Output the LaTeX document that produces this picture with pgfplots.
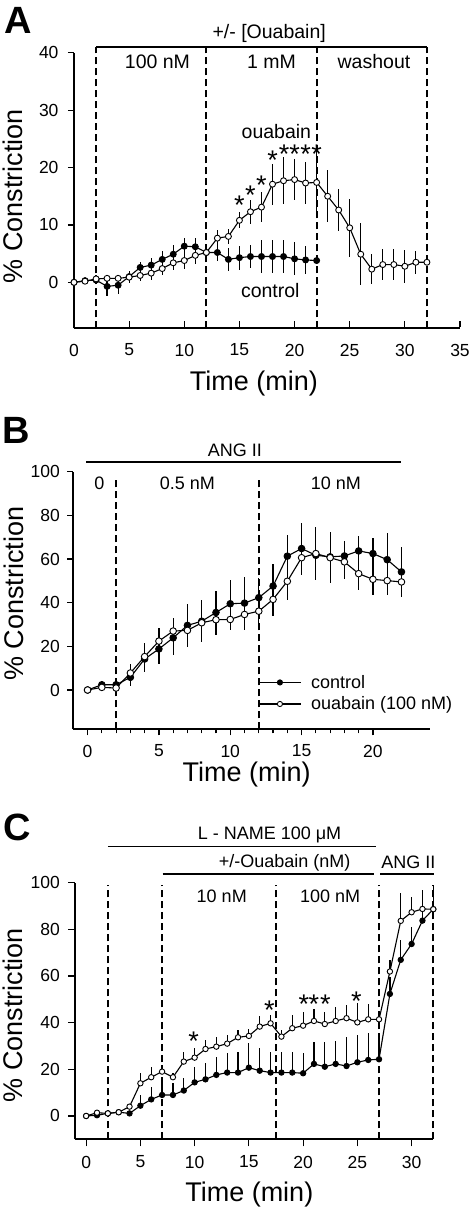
\documentclass[border=0pt]{standalone}
\usepackage{fontspec}
\setmainfont{Liberation Sans}
\usepackage{pgfplots}
\usepackage{pgfplotstable}
\pgfplotsset{compat=1.18}

\newcommand\tfont{\fontsize{18}{21}\selectfont}
\newcommand\afont{\fontsize{19.5}{21}\selectfont}
\newcommand\sfont{\fontsize{27}{27}\selectfont}

\pgfplotstableread{
x y e
0 0 0
1 0.2 0.4
2 0.6 0.6
3 0.7 0.6
4 0.7 0.6
5 0.9 1.0
6 1.2 1.0
7 1.6 1.2
8 2.4 1.2
9 3.4 1.3
10 3.8 1.5
11 4.7 1.5
12 5.2 0.8
13 7.7 1.4
14 8.0 1.3
15 10.8 1.4
16 12.3 2.1
17 13.1 2.6
18 17.1 3.6
19 17.7 4.1
20 17.9 3.6
21 17.3 3.7
22 17.4 5.3
23 15.0 4.5
24 12.6 3.7
25 9.5 5.0
26 4.9 5.4
27 2.3 2.6
28 3.1 2.7
29 3.1 2.7
30 2.8 2.9
31 3.5 2.0
32 3.5 0.3
}\Aoua
\pgfplotstableread{
x y e
0 0 0
1 0.3 0.3
2 0.4 0.5
3 -0.7 1.6
4 -0.5 1.5
5 1.0 1.0
6 2.6 1.0
7 3.0 1.2
8 4.0 1.5
9 4.9 1.6
10 6.3 1.4
11 6.2 1.6
12 5.2 1.4
13 5.2 1.4
14 4.0 2.0
15 4.3 2.1
16 4.5 2.0
17 4.5 2.9
18 4.5 2.9
19 4.5 2.9
20 4.1 2.9
21 3.9 2.5
22 3.8 0.5
}\Actl
\pgfplotstableread{
x y e
0 0 0
1 2.4 1
2 2.4 1
3 5.8 4
4 14.2 6
5 18.8 7
6 23.9 8
7 29.6 10
8 31.5 9.5
9 35.5 10
10 39.5 11
11 39.8 12
12 42.3 9
13 47.6 10
14 61.3 9.5
15 64.8 11.5
16 61.7 6
17 61.0 7.5
18 61.4 7
19 63.7 7
20 62.5 7.2
21 59.7 12
22 54.1 11.4
}\Bctl
\pgfplotstableread{
x y e
0 0 0
1 1.2 0.5
2 0.9 0.5
3 7.8 4
4 15.3 6
5 22.4 6
6 27.0 6
7 27.3 6
8 30.8 7
9 32.2 6.8
10 32.3 5
11 34.6 7
12 36.1 7.3
13 41.5 7.4
14 49.8 8.8
15 60.6 8
16 62.5 12.3
17 60.6 11.6
18 58.7 8
19 53.3 7.7
20 50.7 7.4
21 50.1 6.8
22 49.5 7
}\Boua
\pgfplotstableread{
x y e
0 0 0
1 0.3 0
2 1.1 0
3 1.6 0
4 1.1 0.5
5 4.4 4.6
6 7.1 5.2
7 9.0 5.3
8 9.0 5
9 10.9 5.2
10 14.4 6.7
11 15.7 6.9
12 17.6 7.8
13 18.6 8.3
14 18.6 8.7
15 20.7 10.4
16 19.4 9.6
17 18.6 9
18 18.6 8.7
19 18.6 8.7
20 18.3 8.6
21 22.3 9.6
22 21.1 10.8
23 22.3 10
24 21.4 12.3
25 23.0 11.7
26 24.0 11.4
27 24.3 11
28 52.3 7.4
29 66.9 8.5
30 73.7 7.4
31 83.7 4.6
32 88.6 4
}\Cctl
\pgfplotstableread{
x y e
0 0 0
1 1.4 0
2 1.1 0
3 1.6 0
4 4.0 1
5 14.0 4.3
6 16.6 4.5
7 19.0 3
8 16.6 2
9 23.3 4.3
10 25.0 4
11 28.7 3.9
12 29.7 4
13 31.0 3.7
14 33.7 3.2
15 34.3 2.8
16 38.3 4.6
17 39.7 3.6
18 34.0 3
19 37.6 5.7
20 38.7 6
21 40.7 5
22 39.4 5.3
23 40.7 5.9
24 41.9 5.7
25 40.1 8.2
26 41.4 6.6
27 41.4 2
28 61.9 5
29 83.6 11.8
30 87.3 6.7
31 88.7 8.2
32 88.6 10
}\Coua

\tikzset{ast/.style={font=\sfont, inner sep=0pt, anchor=north}}
\pgfplotsset{
  base/.style={
    scale only axis, axis lines=left,
    axis line style={-, line width=1.7pt},
    tick style={line width=1.2pt, black},
    tick align=outside, major tick length=6pt,
    ticklabel style={font=\fontsize{17.5}{17.5}\selectfont},
    /pgf/number format/assume math mode=true,
    label style={font=\fontsize{27}{27}\selectfont},
    xlabel={Time (min)}, ylabel={\% Constriction},
    clip=false,
  },
  ctl/.style={black, line width=1.1pt, mark=*, mark size=#1, mark options={fill=black, solid, line width=0.9pt},
    error bars/y dir=both, error bars/y explicit, error bars/error mark=none,
    error bars/error bar style={line width=1.2pt, solid}},
  oua/.style={black, line width=1.1pt, mark=*, mark size=#1, mark options={fill=white, solid, line width=0.9pt},
    error bars/y dir=both, error bars/y explicit, error bars/error mark=none,
    error bars/error bar style={line width=1.2pt, solid}},
  vdash/.style={black, line width=1.8pt, dash pattern=on 7pt off 4pt, forget plot},
  hbar/.style={black, line width=1.8pt, forget plot},
}

\begin{document}
\begin{tikzpicture}
\useasboundingbox (0,0) rectangle (474pt,1209pt);

% ---------------- Panel A ----------------
\node[font=\bfseries\fontsize{38}{38}\selectfont] at (18.5pt,1189pt) {A};
\begin{axis}[base, at={(74pt,880.7pt)}, anchor=south west,
  width=386pt, height=275.6pt,
  xmin=0, xmax=35, ymin=-8, ymax=40,
  xtick={0,5,...,35}, ytick={0,10,...,40},
  xtick style={yshift=7pt},
  xticklabel style={yshift=-6pt},
  yticklabel style={xshift=-6pt},
  ylabel style={at={(axis description cs:-0.158,0.48)}, anchor=center},
  xlabel style={at={(axis description cs:0.466,-0.2)}, anchor=center},
]
\addplot[vdash] coordinates {(2,-8) (2,41)};
\addplot[vdash] coordinates {(12,-8) (12,41)};
\addplot[vdash] coordinates {(22,-8) (22,41)};
\addplot[vdash] coordinates {(32,-8) (32,41)};
\addplot[hbar] coordinates {(2,41.05) (32,41.05)};
\addplot[ctl=3pt] table[x=x, y=y, y error=e] {\Actl};
\addplot[oua=3pt] table[x=x, y=y, y error=e] {\Aoua};
\node[font=\afont] at (axis cs:17.7,43.4) {+/- [Ouabain]};
\node[font=\afont] at (axis cs:7.57,38.4) {100 nM};
\node[font=\afont] at (axis cs:17.9,38.4) {1 mM};
\node[font=\afont] at (axis cs:27.2,38.4) {washout};
\node[font=\afont] at (axis cs:18.35,26.2) {ouabain};
\node[font=\afont] at (axis cs:17.8,-1.46) {control};
\node[ast] at (axis cs:15,15.1) {*};
\node[ast] at (axis cs:16,16.9) {*};
\node[ast] at (axis cs:17,18.6) {*};
\node[ast] at (axis cs:18,22.9) {*};
\node[ast] at (axis cs:19.05,24.0) {*};
\node[ast] at (axis cs:20,24.0) {*};
\node[ast] at (axis cs:21,24.0) {*};
\node[ast] at (axis cs:22,24.0) {*};
\end{axis}

% ---------------- Panel B ----------------
\node[font=\bfseries\fontsize{38}{38}\selectfont] at (16pt,779pt) {B};
\begin{axis}[base, at={(73.3pt,479.7pt)}, anchor=south west,
  width=356.7pt, height=257.6pt,
  xmin=-1, xmax=24, ymin=-18, ymax=100,
  xtick={0,5,...,20}, ytick={0,20,...,100},
  minor x tick num=4, minor tick length=4pt,
  xticklabel style={yshift=-6pt},
  yticklabel style={xshift=-4pt},
  ylabel style={at={(axis description cs:-0.168,0.527)}, anchor=center},
  xlabel style={at={(axis description cs:0.486,-0.177)}, anchor=center},
  legend style={at={(axis cs:12,7.8)}, anchor=north west, draw=none, fill=none,
    inner sep=0pt, font=\tfont, row sep=3pt, legend cell align=left,
    /tikz/every odd column/.append style={column sep=8pt}},
  legend image code/.code={\draw[mark repeat=2, mark phase=2, #1, mark size=2.6pt] plot coordinates {(0pt,0pt) (20.4pt,0pt) (41pt,0pt)};},
]
\addplot[vdash] coordinates {(2,-18) (2,96.5)};
\addplot[vdash] coordinates {(12,-18) (12,96.5)};
\addplot[hbar] coordinates {(-0.1,104.6) (22,104.6)};
\addplot[ctl=3.3pt] table[x=x, y=y, y error=e] {\Bctl};
\addlegendentry{control}
\addplot[oua=3.3pt] table[x=x, y=y, y error=e] {\Boua};
\addlegendentry{ouabain (100 nM)}
\node[font=\tfont] at (axis cs:10.33,110) {ANG II};
\node[font=\tfont] at (axis cs:0.82,94.6) {0};
\node[font=\tfont] at (axis cs:7.0,94.6) {0.5 nM};
\node[font=\tfont] at (axis cs:17.4,94.6) {10 nM};
\end{axis}

% ---------------- Panel C ----------------
\node[font=\bfseries\fontsize{38}{38}\selectfont] at (17pt,382pt) {C};
\begin{axis}[base, at={(75.3pt,69.7pt)}, anchor=south west,
  width=358pt, height=256.7pt,
  xmin=-1, xmax=32, ymin=-10, ymax=100,
  xtick={0,5,...,30}, ytick={0,20,...,100},
  major tick length=7pt,
  xticklabel style={yshift=-6pt},
  yticklabel style={xshift=-5pt},
  ylabel style={at={(axis description cs:-0.174,0.484)}, anchor=center},
  xlabel style={at={(axis description cs:0.486,-0.217)}, anchor=center},
]
\addplot[vdash] coordinates {(2,-10) (2,99)};
\addplot[vdash] coordinates {(7,-10) (7,99)};
\addplot[vdash] coordinates {(17.5,-10) (17.5,99)};
\addplot[vdash] coordinates {(27,-10) (27,99)};
\addplot[vdash] coordinates {(32,-10) (32,99)};
\addplot[hbar, line width=1.4pt] coordinates {(2,115.4) (26.7,115.4)};
\addplot[hbar, line width=1.4pt] coordinates {(7.05,103.7) (26.5,103.7)};
\addplot[hbar, line width=1.4pt] coordinates {(27.1,103.7) (32.1,103.7)};
\addplot[ctl=2.7pt, error bars/y dir=plus] table[x=x, y=y, y error=e] {\Cctl};
\addplot[oua=2.7pt, error bars/y dir=plus] table[x=x, y=y, y error=e] {\Coua};
\node[font=\tfont] at (axis cs:16.9,120.4) {L - NAME 100 μM};
\node[font=\tfont] at (axis cs:18.3,108.6) {+/-Ouabain (nM)};
\node[font=\tfont] at (axis cs:29.7,108.6) {ANG II};
\node[font=\tfont] at (axis cs:12.5,94) {10 nM};
\node[font=\tfont] at (axis cs:22.5,94) {100 nM};
\node[ast] at (axis cs:9.9,35.9) {*};
\node[ast] at (axis cs:16.9,49.5) {*};
\node[ast] at (axis cs:20.06,51.9) {*};
\node[ast] at (axis cs:21,51.9) {*};
\node[ast] at (axis cs:22.06,51.9) {*};
\node[ast] at (axis cs:24.9,53.3) {*};
\end{axis}
\end{tikzpicture}
\end{document}
